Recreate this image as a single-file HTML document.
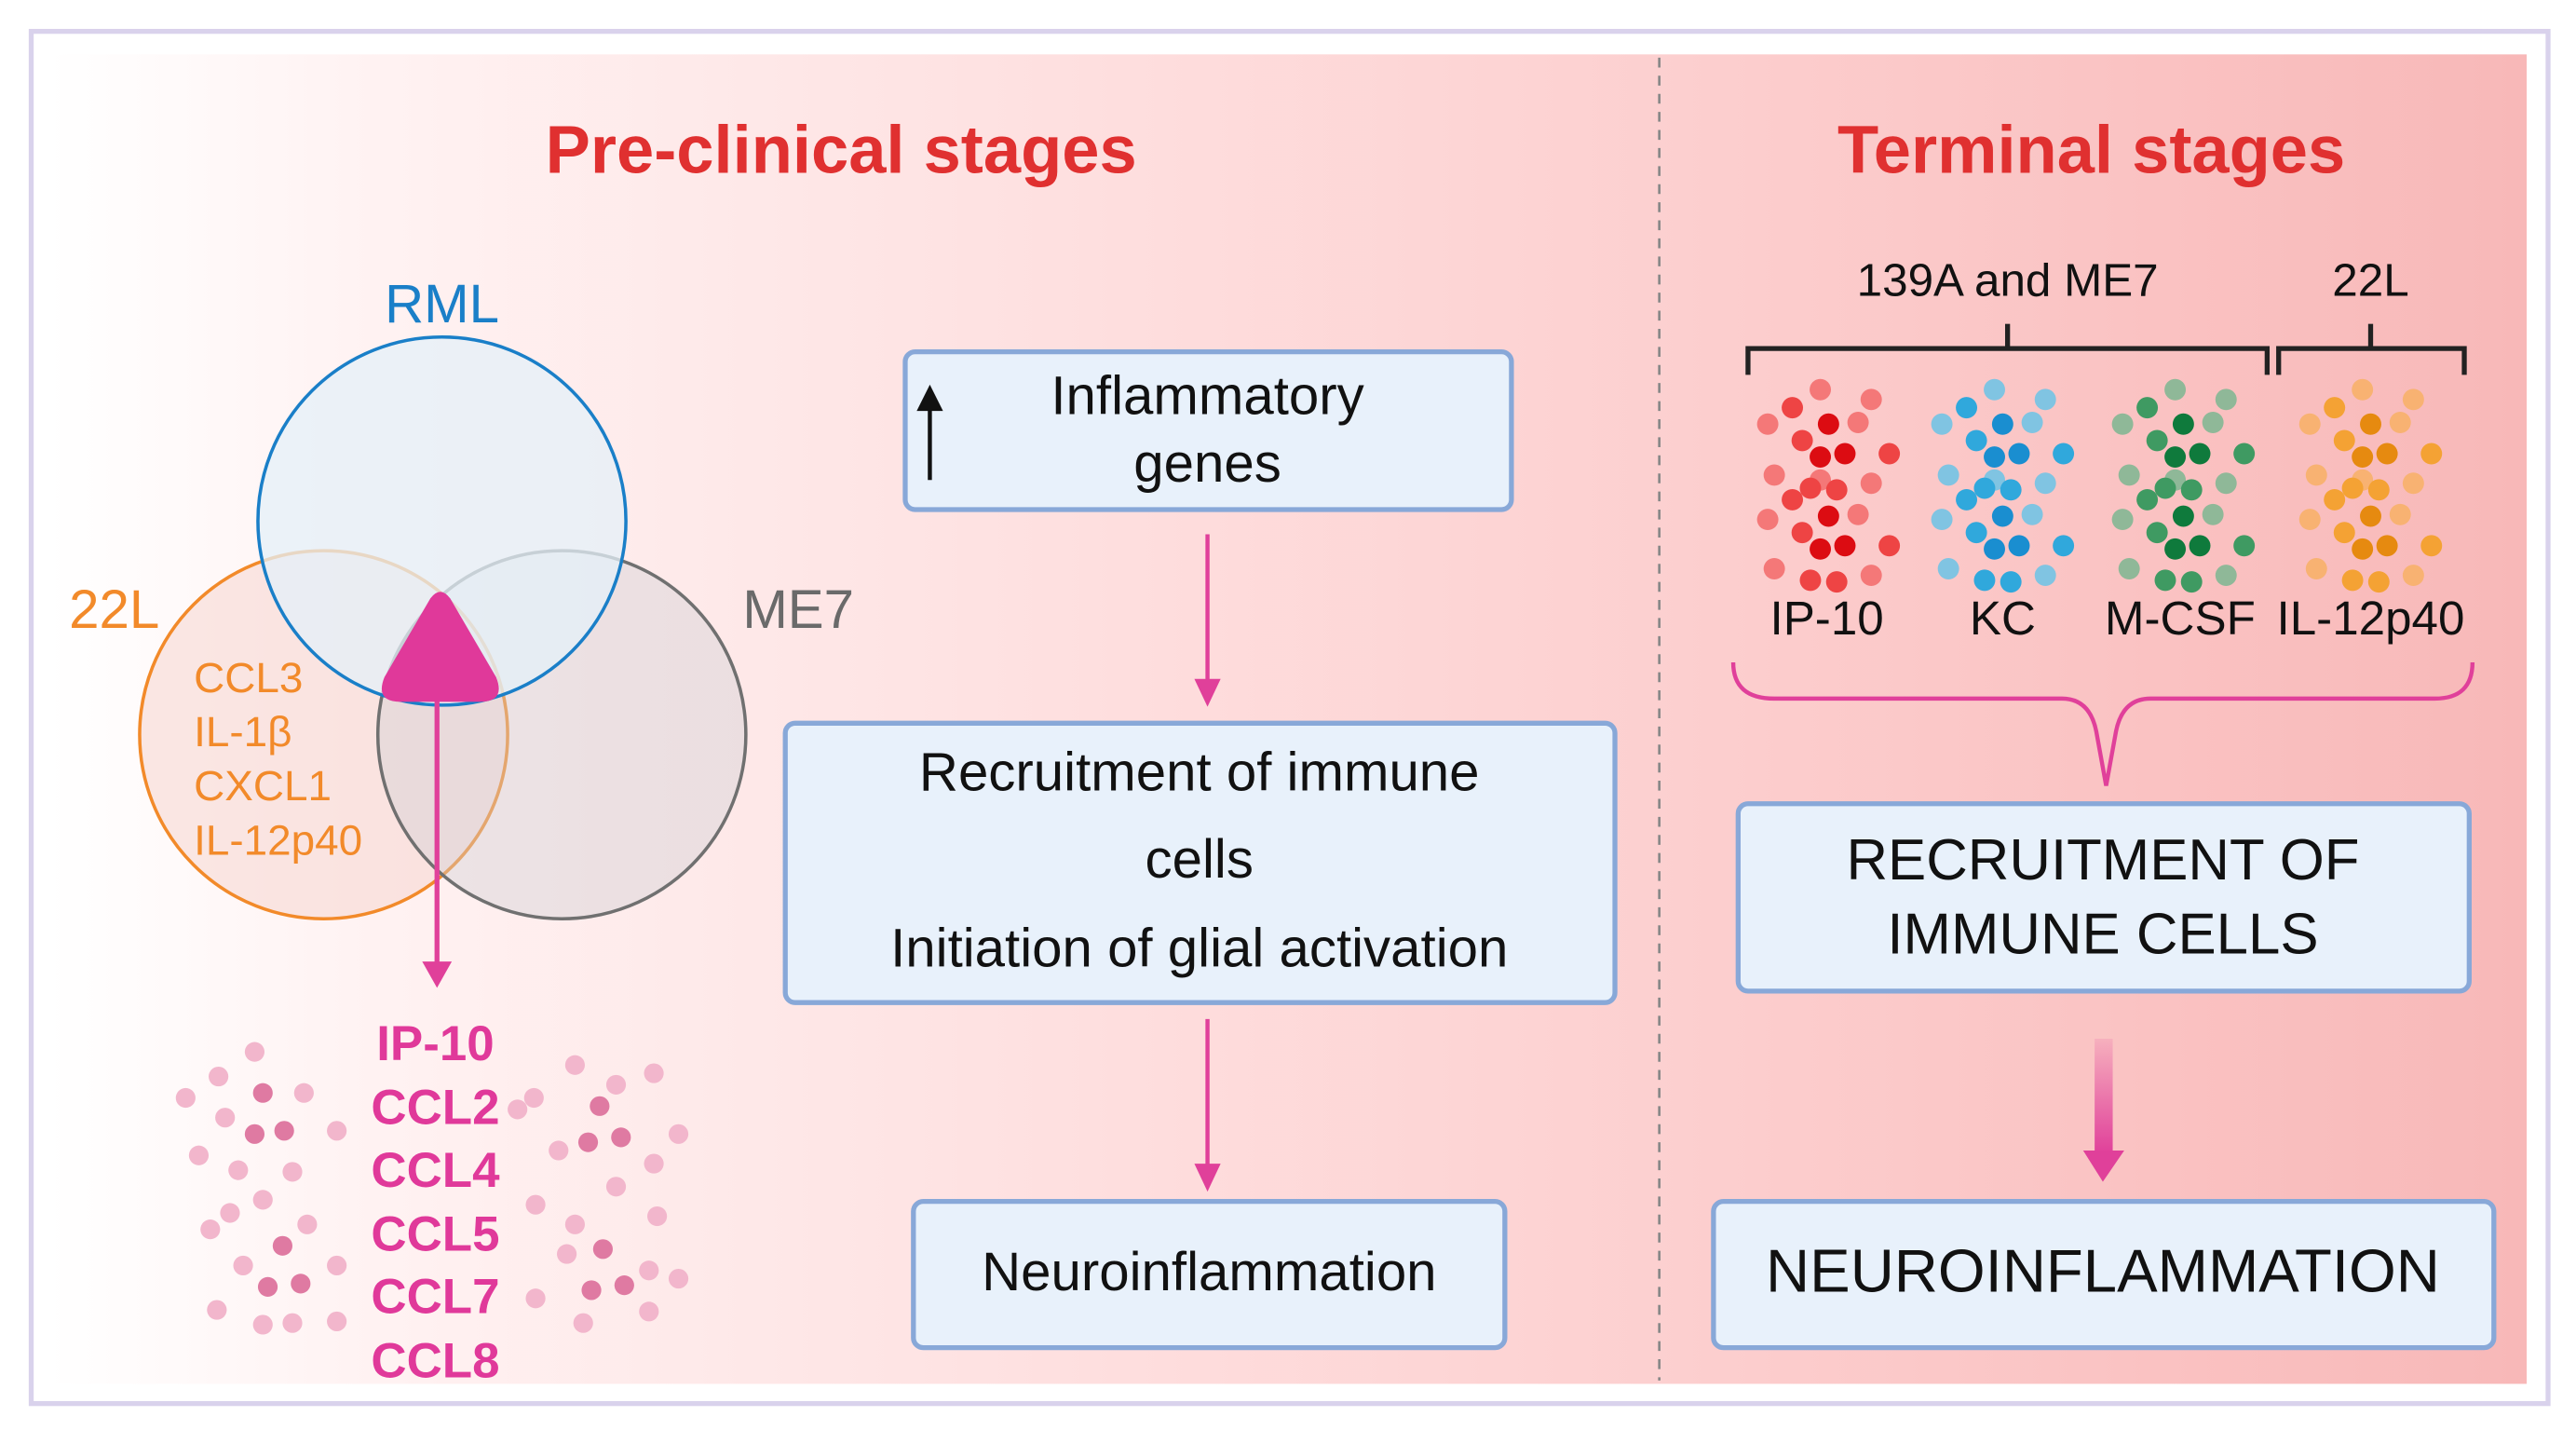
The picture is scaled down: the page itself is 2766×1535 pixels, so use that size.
<!DOCTYPE html>
<html><head><meta charset="utf-8"><style>
html,body{margin:0;padding:0;background:#fff;}
svg{display:block;}
text{font-family:"Liberation Sans",Arial,sans-serif;}
</style></head><body>
<svg width="2766" height="1535" viewBox="0 0 1568 870" xmlns="http://www.w3.org/2000/svg">
<defs>
<linearGradient id="bg" x1="0" x2="1" y1="0" y2="0">
<stop offset="0" stop-color="#ffffff"/><stop offset="0.12" stop-color="#fff3f3"/>
<stop offset="0.6" stop-color="#fdd3d3"/><stop offset="1" stop-color="#f8b8b8"/>
</linearGradient>
<linearGradient id="ag" x1="0" x2="0" y1="0" y2="1">
<stop offset="0" stop-color="#e0409a" stop-opacity="0.15"/><stop offset="1" stop-color="#e0409a"/>
</linearGradient>
<g id="cl">
<circle cx="-5" cy="-57" r="6.5"/><circle cx="26" cy="-51" r="6.5"/>
<circle cx="-37" cy="-36" r="6.5"/><circle cx="18" cy="-37" r="6.5"/>
<circle cx="-33" cy="-5" r="6.5"/><circle cx="-5" cy="-2" r="6.5"/>
<circle cx="26" cy="0" r="6.5"/><circle cx="-37" cy="22" r="6.5"/>
<circle cx="18" cy="19" r="6.5"/><circle cx="-33" cy="52" r="6.5"/><circle cx="26" cy="56" r="6.5"/>
</g>
<g id="cm">
<circle cx="-22" cy="-46" r="6.5"/><circle cx="-16" cy="-26" r="6.5"/><circle cx="37" cy="-18" r="6.5"/>
<circle cx="-11" cy="3" r="6.5"/><circle cx="5" cy="4" r="6.5"/><circle cx="-22" cy="10" r="6.5"/>
<circle cx="-16" cy="30" r="6.5"/><circle cx="37" cy="38" r="6.5"/><circle cx="-11" cy="59" r="6.5"/><circle cx="5" cy="60" r="6.5"/>
</g>
<g id="cd">
<circle cx="0" cy="-36" r="6.5"/><circle cx="-5" cy="-16" r="6.5"/><circle cx="10" cy="-18" r="6.5"/>
<circle cx="0" cy="20" r="6.5"/><circle cx="-5" cy="40" r="6.5"/><circle cx="10" cy="38" r="6.5"/>
</g>
</defs>
<rect x="0" y="0" width="1568" height="870" fill="#fff"/>
<rect x="19" y="19" width="1532" height="835" fill="none" stroke="#d9d2ec" stroke-width="3"/>
<rect x="30" y="33" width="1508" height="809" fill="url(#bg)"/>
<line x1="1010" y1="35" x2="1010" y2="840" stroke="#888" stroke-width="1.5" stroke-dasharray="6,5"/>

<text x="512" y="105" text-anchor="middle" font-size="41" font-weight="bold" fill="#e03030">Pre-clinical stages</text>
<text x="1273" y="105" text-anchor="middle" font-size="41" font-weight="bold" fill="#e03030">Terminal stages</text>

<!-- Venn -->
<circle cx="197" cy="447" r="112" fill="#f6d8d4" fill-opacity="0.6" stroke="#f28a2a" stroke-width="2"/>
<circle cx="342" cy="447" r="112" fill="#cfcfd4" fill-opacity="0.4" stroke="#707070" stroke-width="2"/>
<circle cx="269" cy="317" r="112" fill="#e4f0f8" fill-opacity="0.75" stroke="#1a7fc8" stroke-width="2"/>
<line x1="266" y1="426" x2="266" y2="588" stroke="#e0409a" stroke-width="3"/>
<polygon points="257,585 275,585 266,601" fill="#e0409a"/>
<path d="M262 364 Q268 356 274 364 L302 412 Q308 427 292 427 L244 427 Q228 427 234 412 Z" fill="#e0399a"/>
<text x="269" y="196" text-anchor="middle" font-size="33" fill="#1a7fc8">RML</text>
<text x="42" y="382" font-size="33" fill="#f28a2a">22L</text>
<text x="452" y="382" font-size="33" fill="#6a6a6a">ME7</text>
<g font-size="26" fill="#f28a2a">
<text x="118" y="421">CCL3</text><text x="118" y="454">IL-1β</text><text x="118" y="487">CXCL1</text><text x="118" y="520">IL-12p40</text>
</g>
<!-- pink dots -->
<g fill="#f2b6cc">
<circle cx="155" cy="640" r="6"/><circle cx="133" cy="655" r="6"/><circle cx="113" cy="668" r="6"/><circle cx="185" cy="665" r="6"/>
<circle cx="205" cy="688" r="6"/><circle cx="121" cy="703" r="6"/><circle cx="178" cy="713" r="6"/><circle cx="145" cy="712" r="6"/>
<circle cx="160" cy="730" r="6"/><circle cx="128" cy="748" r="6"/><circle cx="187" cy="745" r="6"/><circle cx="148" cy="770" r="6"/>
<circle cx="205" cy="770" r="6"/><circle cx="132" cy="797" r="6"/><circle cx="160" cy="806" r="6"/><circle cx="205" cy="804" r="6"/>
<circle cx="178" cy="805" r="6"/><circle cx="137" cy="680" r="6"/><circle cx="140" cy="738" r="6"/>
<circle cx="325" cy="668" r="6"/><circle cx="350" cy="648" r="6"/><circle cx="375" cy="660" r="6"/><circle cx="398" cy="653" r="6"/>
<circle cx="413" cy="690" r="6"/><circle cx="340" cy="700" r="6"/><circle cx="375" cy="722" r="6"/><circle cx="398" cy="708" r="6"/>
<circle cx="326" cy="733" r="6"/><circle cx="350" cy="745" r="6"/><circle cx="400" cy="740" r="6"/><circle cx="326" cy="790" r="6"/>
<circle cx="345" cy="763" r="6"/><circle cx="395" cy="773" r="6"/><circle cx="413" cy="778" r="6"/><circle cx="355" cy="805" r="6"/>
<circle cx="395" cy="798" r="6"/><circle cx="315" cy="675" r="6"/>
</g>
<g fill="#df7aa2">
<circle cx="160" cy="665" r="6"/><circle cx="155" cy="690" r="6"/><circle cx="173" cy="688" r="6"/><circle cx="172" cy="758" r="6"/>
<circle cx="163" cy="783" r="6"/><circle cx="183" cy="781" r="6"/><circle cx="365" cy="673" r="6"/><circle cx="358" cy="695" r="6"/>
<circle cx="378" cy="692" r="6"/><circle cx="367" cy="760" r="6"/><circle cx="360" cy="785" r="6"/><circle cx="380" cy="782" r="6"/>
</g>
<g font-size="30" font-weight="bold" fill="#e0399a" text-anchor="middle">
<text x="265" y="645">IP-10</text><text x="265" y="684">CCL2</text><text x="265" y="722">CCL4</text>
<text x="265" y="761">CCL5</text><text x="265" y="799">CCL7</text><text x="265" y="838">CCL8</text>
</g>

<!-- middle flow -->
<rect x="551" y="214" width="369" height="96" rx="6" fill="#e8f1fb" stroke="#88a8d8" stroke-width="3"/>
<line x1="566" y1="292" x2="566" y2="246" stroke="#111" stroke-width="2.5"/>
<polygon points="558,250 574,250 566,234" fill="#111"/>
<g font-size="33" fill="#111" text-anchor="middle">
<text x="735" y="252">Inflammatory</text><text x="735" y="293">genes</text>
</g>
<line x1="735" y1="325" x2="735" y2="415" stroke="#e0409a" stroke-width="2.5"/>
<polygon points="727,413 743,413 735,430" fill="#e0409a"/>
<rect x="478" y="440" width="505" height="170" rx="6" fill="#e8f1fb" stroke="#88a8d8" stroke-width="3"/>
<g font-size="33" fill="#111" text-anchor="middle">
<text x="730" y="481">Recruitment of immune</text><text x="730" y="534">cells</text><text x="730" y="588">Initiation of glial activation</text>
</g>
<line x1="735" y1="620" x2="735" y2="710" stroke="#e0409a" stroke-width="2.5"/>
<polygon points="727,708 743,708 735,725" fill="#e0409a"/>
<rect x="556" y="731" width="360" height="89" rx="6" fill="#e8f1fb" stroke="#88a8d8" stroke-width="3"/>
<text x="736" y="785" font-size="33" fill="#111" text-anchor="middle">Neuroinflammation</text>

<!-- right -->
<g font-size="28" fill="#111" text-anchor="middle">
<text x="1222" y="180">139A and ME7</text><text x="1443" y="180">22L</text>
</g>
<g stroke="#222" stroke-width="3" fill="none">
<path d="M1064 228 V212 H1380 V228"/><line x1="1222" y1="197" x2="1222" y2="212"/>
<path d="M1387 228 V212 H1500 V228"/><line x1="1443" y1="197" x2="1443" y2="212"/>
</g>
<g transform="translate(1113,294)"><use href="#cl" fill="#f47878"/><use href="#cm" fill="#ee4444"/><use href="#cd" fill="#dc0c12"/></g>
<g transform="translate(1219,294)"><use href="#cl" fill="#80c4e2"/><use href="#cm" fill="#30a8dc"/><use href="#cd" fill="#1a8ed0"/></g>
<g transform="translate(1329,294)"><use href="#cl" fill="#8fb898"/><use href="#cm" fill="#3f9a62"/><use href="#cd" fill="#0f7a3c"/></g>
<g transform="translate(1443,294)"><use href="#cl" fill="#f8b272"/><use href="#cm" fill="#f4a234"/><use href="#cd" fill="#e68a10"/></g>
<g font-size="29" fill="#111" text-anchor="middle">
<text x="1112" y="386">IP-10</text><text x="1219" y="386">KC</text><text x="1327" y="386">M-CSF</text><text x="1443" y="386">IL-12p40</text>
</g>
<path d="M1055 403 Q1055 425 1080 425 L1255 425 Q1272 425 1276 445 L1282 478 L1288 445 Q1292 425 1309 425 L1482 425 Q1505 425 1505 403" fill="none" stroke="#e0409a" stroke-width="2.5"/>
<rect x="1058" y="489" width="445" height="114" rx="6" fill="#e8f1fb" stroke="#88a8d8" stroke-width="3"/>
<g font-size="35" fill="#111" text-anchor="middle">
<text x="1280" y="535">RECRUITMENT OF</text><text x="1280" y="580">IMMUNE CELLS</text>
</g>
<rect x="1275" y="632" width="11" height="70" fill="url(#ag)"/>
<polygon points="1268,700 1293,700 1280,719" fill="#e0409a"/>
<rect x="1043" y="731" width="475" height="89" rx="6" fill="#e8f1fb" stroke="#88a8d8" stroke-width="3"/>
<text x="1280" y="786" font-size="37" fill="#111" text-anchor="middle">NEUROINFLAMMATION</text>
</svg>
</body></html>
